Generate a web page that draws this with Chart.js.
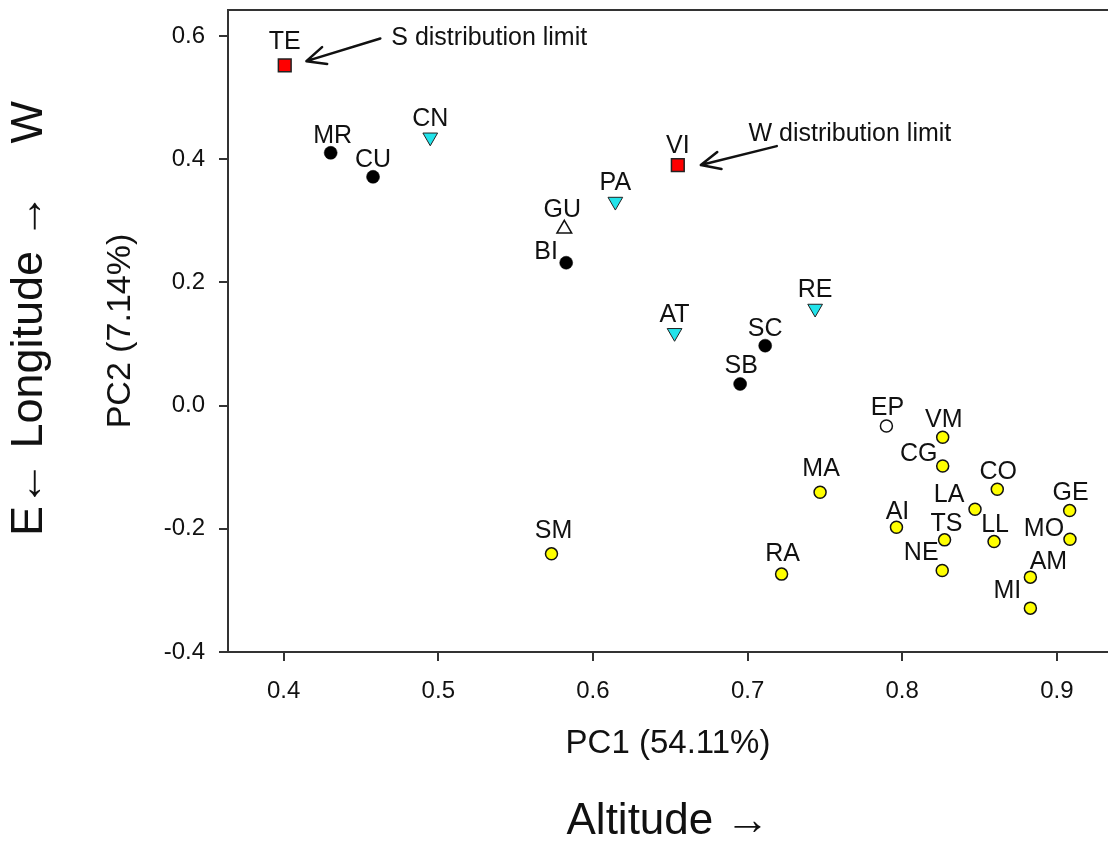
<!DOCTYPE html>
<html>
<head>
<meta charset="utf-8">
<script src="https://cdn.jsdelivr.net/npm/chart.js@4/dist/chart.umd.min.js"></script>
<style>
  html, body { margin: 0; padding: 0; background: #fff; overflow: hidden; }
  #wrap { width: 1108px; height: 844px; }
</style>
</head>
<body>
<div id="wrap"><canvas id="pcaChart"></canvas></div>
<script>
// PCA scores per site group (PC1 ~ altitude, PC2 ~ longitude)
const limitSites = ['TE', 'VI'];
const limitPC1 = [0.4007, 0.6549];
const limitPC2 = [0.5521, 0.3902];

const blackSites = ['MR', 'CU', 'BI', 'SC', 'SB'];
const blackPC1 = [0.4304, 0.4578, 0.5827, 0.7114, 0.6952];
const blackPC2 = [0.4102, 0.3713, 0.2318, 0.0972, 0.0350];

const cyanSites = ['CN', 'PA', 'AT', 'RE'];
const cyanPC1 = [0.4948, 0.6145, 0.6528, 0.7437];
const cyanPC2 = [0.4354, 0.3311, 0.1181, 0.1575];

const openTriSites = ['GU'];
const openTriPC1 = [0.5815];
const openTriPC2 = [0.2869];

const openCircSites = ['EP'];
const openCircPC1 = [0.7898];
const openCircPC2 = [-0.0331];

const yellowSites = ['VM', 'CG', 'MA', 'CO', 'LA', 'GE', 'AI', 'TS', 'LL', 'MO', 'SM', 'NE', 'RA', 'AM', 'MI'];
const yellowPC1 = [0.8262, 0.8262, 0.7469, 0.8615, 0.8471, 0.9083, 0.7963, 0.8274, 0.8594, 0.9085, 0.5732, 0.8259, 0.7220, 0.8829, 0.8829];
const yellowPC2 = [-0.0514, -0.0980, -0.1406, -0.1358, -0.1682, -0.1705, -0.1974, -0.2180, -0.2208, -0.2169, -0.2407, -0.2678, -0.2736, -0.2785, -0.3288];

const xTicks = [0.4, 0.5, 0.6, 0.7, 0.8, 0.9];
const yTicks = [-0.4, -0.2, 0.0, 0.2, 0.4, 0.6];

// arrow notes
const noteTexts = ['S distribution limit', 'W distribution limit'];
const noteTextPC1 = [0.4696, 0.7006];
const noteTextPC2 = [0.585, 0.4297];
const arrowFromPC1 = [0.4625, 0.7189];
const arrowFromPC2 = [0.5958, 0.4211];
const arrowToPC1 = [0.4147, 0.6698];
const arrowToPC2 = [0.559, 0.3903];

const FONT = '"Liberation Sans", Arial, sans-serif';
const axisColor = '#333';
const textColor = '#111';

// label placement relative to the marker (px)
const labelShift = {
    TE: [0, -23], MR: [2, -17], CU: [0, -17], BI: [-20, -11], SC: [0, -17], SB: [1, -18],
    CN: [0, -18], PA: [0, -18], AT: [0, -18], RE: [0, -18], GU: [-2, -19], VI: [0, -19],
    EP: [1, -18], VM: [1, -17], CG: [-24, -12], MA: [1, -23], CO: [1, -17], LA: [-26, -14],
    GE: [1, -17], AI: [1, -15], TS: [2, -16], LL: [1, -16], MO: [-26, -10], SM: [2, -23],
    NE: [-21, -17], RA: [1, -20], AM: [18, -15], MI: [-23, -17]
};

function pts(xs, ys) {
    return xs.map((x, i) => ({ x: x, y: ys[i] }));
}

// Plugin: site codes next to each marker
const siteLabels = {
    id: 'siteLabels',
    afterDatasetsDraw(chart) {
        const ctx = chart.ctx;
        ctx.save();
        ctx.font = '25px ' + FONT;
        ctx.fillStyle = textColor;
        ctx.textAlign = 'center';
        ctx.textBaseline = 'middle';
        chart.data.datasets.forEach((ds, di) => {
            const meta = chart.getDatasetMeta(di);
            meta.data.forEach((pt, i) => {
                const name = ds.sites[i];
                const shift = labelShift[name] || [0, -17];
                ctx.fillText(name, pt.x + shift[0], pt.y + shift[1]);
            });
        });
        ctx.restore();
    }
};

// Plugin: the two "distribution limit" arrows
const distLimits = {
    id: 'distLimits',
    afterDatasetsDraw(chart) {
        const { ctx, scales } = chart;
        const sx = scales.x, sy = scales.y;
        ctx.save();
        ctx.font = '25px ' + FONT;
        ctx.fillStyle = textColor;
        ctx.textAlign = 'left';
        ctx.textBaseline = 'alphabetic';
        ctx.strokeStyle = textColor;
        ctx.lineWidth = 2.5;
        ctx.lineCap = 'round';
        ctx.lineJoin = 'round';
        noteTexts.forEach((t, i) => {
            ctx.fillText(t, sx.getPixelForValue(noteTextPC1[i]), sy.getPixelForValue(noteTextPC2[i]));
            const x0 = sx.getPixelForValue(arrowFromPC1[i]);
            const y0 = sy.getPixelForValue(arrowFromPC2[i]);
            const x1 = sx.getPixelForValue(arrowToPC1[i]);
            const y1 = sy.getPixelForValue(arrowToPC2[i]);
            const ang = Math.atan2(y1 - y0, x1 - x0);
            const head = 21, spread = 0.43;
            ctx.beginPath();
            ctx.moveTo(x0, y0);
            ctx.lineTo(x1, y1);
            ctx.moveTo(x1 - head * Math.cos(ang - spread), y1 - head * Math.sin(ang - spread));
            ctx.lineTo(x1, y1);
            ctx.lineTo(x1 - head * Math.cos(ang + spread), y1 - head * Math.sin(ang + spread));
            ctx.stroke();
        });
        ctx.restore();
    }
};

function noPad(s) {
    s.paddingLeft = 0;
    s.paddingRight = 0;
    s.paddingTop = 0;
    s.paddingBottom = 0;
}

const ctx = document.getElementById('pcaChart').getContext('2d');
new Chart(ctx, {
    type: 'scatter',
    data: {
        datasets: [
            {
                sites: yellowSites, data: pts(yellowPC1, yellowPC2),
                pointStyle: 'circle', pointRadius: 6, backgroundColor: '#ffff00',
                borderColor: '#111', borderWidth: 1.5, xAxisID: 'x', yAxisID: 'y'
            },
            {
                sites: blackSites, data: pts(blackPC1, blackPC2),
                pointStyle: 'circle', pointRadius: 6.5, backgroundColor: '#000',
                borderColor: '#000', borderWidth: 0.5, xAxisID: 'x', yAxisID: 'y'
            },
            {
                sites: cyanSites, data: pts(cyanPC1, cyanPC2),
                pointStyle: 'triangle', pointRotation: 180, pointRadius: 8.5,
                backgroundColor: '#22e3ea', borderColor: '#222', borderWidth: 1,
                xAxisID: 'x', yAxisID: 'y'
            },
            {
                sites: openTriSites, data: pts(openTriPC1, openTriPC2),
                pointStyle: 'triangle', pointRadius: 8.5, backgroundColor: '#fff',
                borderColor: '#111', borderWidth: 1.5, xAxisID: 'x', yAxisID: 'y'
            },
            {
                sites: openCircSites, data: pts(openCircPC1, openCircPC2),
                pointStyle: 'circle', pointRadius: 6, backgroundColor: '#fff',
                borderColor: '#111', borderWidth: 1.5, xAxisID: 'x', yAxisID: 'y'
            },
            {
                sites: limitSites, data: pts(limitPC1, limitPC2),
                pointStyle: 'rect', pointRadius: 9, backgroundColor: '#ff0000',
                borderColor: '#222', borderWidth: 1.5, xAxisID: 'x', yAxisID: 'y'
            }
        ]
    },
    options: {
        responsive: true,
        maintainAspectRatio: false,
        animation: false,
        events: [],
        layout: { padding: 0, autoPadding: false },
        plugins: {
            legend: { display: false },
            tooltip: { enabled: false }
        },
        scales: {
            x: {
                type: 'linear',
                position: 'bottom',
                min: 0.364,
                max: 0.9331,
                afterBuildTicks: s => { s.ticks = xTicks.map(v => ({ value: v })); },
                afterFit: s => { s.height = 112; noPad(s); },
                ticks: {
                    callback: v => v.toFixed(1),
                    font: { size: 24, family: FONT },
                    color: textColor,
                    padding: 16,
                    maxRotation: 0
                },
                grid: { drawOnChartArea: false, tickLength: 9, color: axisColor, lineWidth: 2 },
                border: { display: true, color: axisColor, width: 2 },
                title: {
                    display: true, text: 'PC1 (54.11%)', color: textColor,
                    font: { size: 33, family: FONT }, padding: { top: 0, bottom: 0 }
                }
            },
            xOuter: {
                type: 'linear',
                position: 'bottom',
                weight: 1,
                afterFit: s => { s.height = 80; noPad(s); },
                ticks: { display: false },
                grid: { display: false },
                border: { display: false },
                title: {
                    display: true, text: 'Altitude \u2192', color: textColor,
                    font: { size: 44, family: FONT, lineHeight: 1.0 }, padding: { top: 0, bottom: 0 }
                }
            },
            xTop: {
                type: 'linear',
                position: 'top',
                min: 0.364,
                max: 0.9331,
                afterFit: s => { s.height = 10; noPad(s); },
                ticks: { display: false },
                grid: { display: false },
                border: { display: true, color: axisColor, width: 2 }
            },
            y: {
                type: 'linear',
                position: 'left',
                min: -0.4,
                max: 0.642,
                afterBuildTicks: s => { s.ticks = yTicks.map(v => ({ value: v })); },
                afterFit: s => { s.width = 166; noPad(s); },
                ticks: {
                    callback: v => v.toFixed(1),
                    font: { size: 24, family: FONT },
                    color: textColor,
                    padding: 14
                },
                grid: { drawOnChartArea: false, tickLength: 9, color: axisColor, lineWidth: 2 },
                border: { display: true, color: axisColor, width: 2 },
                title: {
                    display: true, text: 'PC2 (7.14%)', color: textColor,
                    font: { size: 34, family: FONT }, padding: { top: 38, bottom: 0 }
                }
            },
            yOuter: {
                type: 'linear',
                position: 'left',
                weight: 1,
                afterFit: s => { s.width = 62; noPad(s); },
                ticks: { display: false },
                grid: { display: false },
                border: { display: false },
                title: {
                    display: true, text: '  E\u2190 Longitude \u2192    W', color: textColor,
                    font: { size: 45, family: FONT }, padding: { top: 3, bottom: 0 }
                }
            }
        }
    },
    plugins: [siteLabels, distLimits]
});
</script>
</body>
</html>
